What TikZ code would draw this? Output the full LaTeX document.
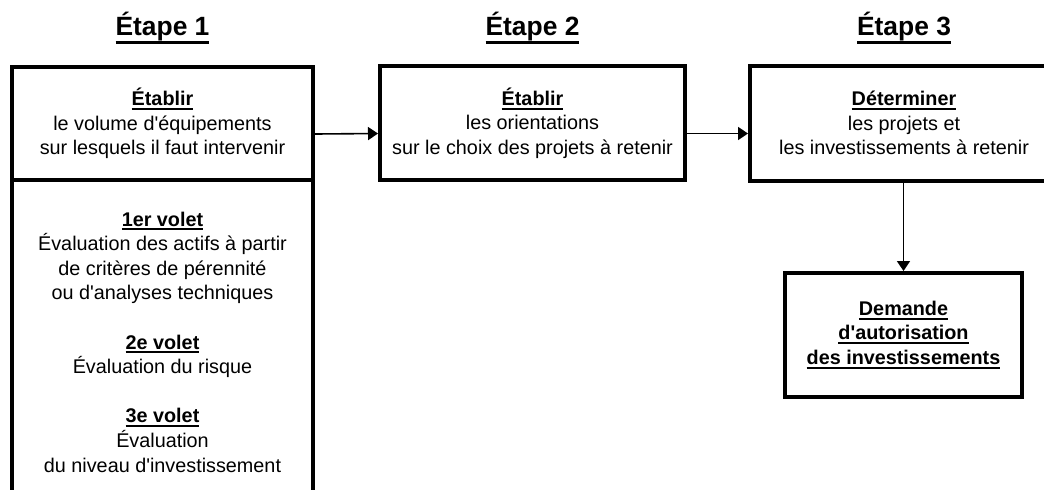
\documentclass[tikz,border=0pt]{standalone}
\usepackage{fontspec}
\setmainfont{Liberation Sans}[Ligatures=TeXOff]
\usetikzlibrary{arrows.meta, positioning}

% underline set at a fixed depth below the baseline
\newcommand\souligne[3]{\setbox0\hbox{#3}\rlap{\rule[-#2]{\wd0}{#1}}\box0}
\newcommand\titre[1]{\souligne{1.5pt}{4.4pt}{\textbf{#1}}}
\newcommand\mot[1]{\souligne{1pt}{2.2pt}{\textbf{#1}}}

\begin{document}
\begin{tikzpicture}[x=0.5pt, y=-0.5pt]
    % Setup the styles for the titles, boxes and arrows
    \tikzset{box style/.style={draw,
                               line width=2pt,
                               align=center,
                               inner sep=0pt,
                               font=\fontsize{9.9pt}{12.3pt}\selectfont},
             title style/.style={anchor=base,
                                 font=\fontsize{13.2pt}{16pt}\selectfont},
             arrow style/.style={line width=0.8pt,
                                 -{Triangle[length=5pt, width=6.5pt]}}}

    \useasboundingbox (0, 0) rectangle (1044, 489);

    % Draw the titles
    \node[title style] at (162.5, 35) (etape1) {\titre{Étape 1}};
    \node[title style] at (532.5, 35) (etape2) {\titre{Étape 2}};
    \node[title style] at (904, 35)   (etape3) {\titre{Étape 3}};

    % Draw the boxes
    \node[box style, minimum width=150.5pt, minimum height=56.5pt] at (162.5, 123.5) (etablir)
        {\mot{Établir}\\ le volume d'équipements\\ sur lesquels il faut intervenir};
    \node[box style, minimum width=150.5pt, minimum height=162pt] at (162.5, 342) (volets)
        {\mot{1er volet}\\ Évaluation des actifs à partir\\ de critères de pérennité\\
         ou d'analyses techniques\\[12.3pt]
         \mot{2e volet}\\ Évaluation du risque\\[12.3pt]
         \mot{3e volet}\\ Évaluation\\ du niveau d'investissement};
    \node[box style, minimum width=152.5pt, minimum height=57pt] at (532.5, 123) (orientations)
        {\mot{Établir}\\ les orientations\\ sur le choix des projets à retenir};
    \node[box style, minimum width=154pt, minimum height=57.5pt] at (904, 123) (projets)
        {\mot{Déterminer}\\ les projets et\\ les investissements à retenir};
    \node[box style, minimum width=118.5pt, minimum height=62pt] at (903.5, 335) (demande)
        {\mot{Demande}\\ \mot{d'autorisation}\\ \mot{des investissements}};

    % Connect the boxes with arrows
    \path[arrow style]
        ([yshift=-5.25pt]etablir.east)      edge ([yshift=-5.25pt]orientations.west)
        ([yshift=-5.25pt]orientations.east) edge ([yshift=-5.25pt]projets.west)
        (projets.south -| demande.north)    edge (demande.north);
\end{tikzpicture}
\end{document}
